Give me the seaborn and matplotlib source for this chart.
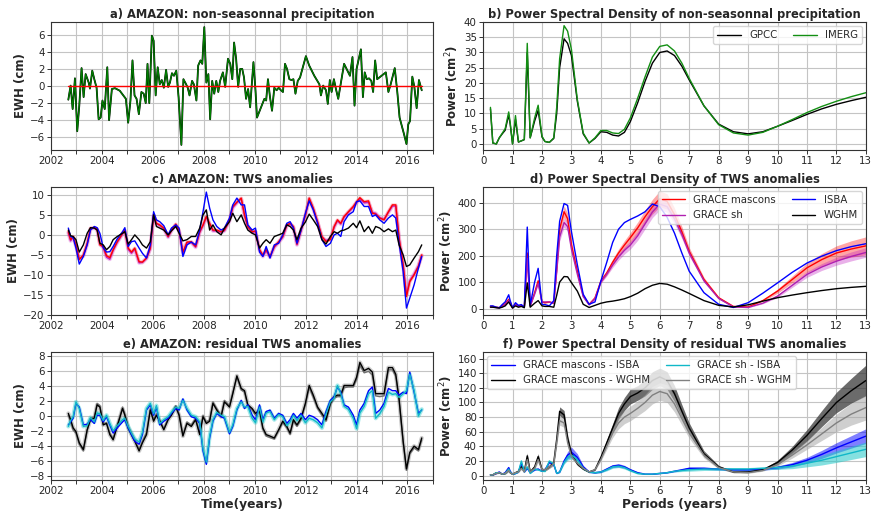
import numpy as np
import seaborn as sns
import matplotlib
matplotlib.use("Agg")
import matplotlib.pyplot as plt

# ---- panel a: non-seasonal precipitation (cm) ----
t_precip = [2002.68, 2002.77, 2002.85, 2002.94, 2003.03, 2003.11, 2003.20, 2003.28, 2003.36, 2003.48,
            2003.53, 2003.62, 2003.70, 2003.79, 2003.87, 2003.95, 2004.02, 2004.11, 2004.21, 2004.28,
            2004.39, 2004.51, 2004.70, 2004.94, 2005.03, 2005.12, 2005.20, 2005.28, 2005.36, 2005.45,
            2005.55, 2005.64, 2005.72, 2005.79, 2005.86, 2005.96, 2006.03, 2006.11, 2006.19, 2006.27,
            2006.35, 2006.43, 2006.52, 2006.60, 2006.67, 2006.75, 2006.83, 2006.92, 2007.01, 2007.12,
            2007.20, 2007.29, 2007.37, 2007.44, 2007.54, 2007.61, 2007.71, 2007.78, 2007.87, 2007.94,
            2008.02, 2008.10, 2008.18, 2008.25, 2008.33, 2008.41, 2008.49, 2008.57, 2008.64, 2008.75,
            2008.84, 2008.95, 2009.04, 2009.12, 2009.19, 2009.27, 2009.35, 2009.43, 2009.51, 2009.58,
            2009.66, 2009.74, 2009.82, 2009.95, 2010.03, 2010.09, 2010.25, 2010.38, 2010.45, 2010.52,
            2010.60, 2010.68, 2010.77, 2010.86, 2010.94, 2011.03, 2011.11, 2011.19, 2011.27, 2011.36,
            2011.44, 2011.52, 2011.60, 2011.69, 2011.78, 2012.01, 2012.14, 2012.34, 2012.54, 2012.60,
            2012.69, 2012.80, 2012.87, 2012.95, 2013.02, 2013.11, 2013.19, 2013.28, 2013.51, 2013.74,
            2013.84, 2013.92, 2014.00, 2014.17, 2014.25, 2014.32, 2014.40, 2014.49, 2014.58, 2014.65,
            2014.73, 2014.81, 2015.15, 2015.25, 2015.34, 2015.50, 2015.60, 2015.69, 2015.86, 2015.96,
            2016.03, 2016.10, 2016.19, 2016.27, 2016.36, 2016.45, 2016.56]
precip = [-1.6, 0.05, -2.7, 0.9, -5.3, -2.3, 2.1, -1.3, 1.4, 0.4,
          -0.3, 1.8, 0.8, -0.2, -3.9, -3.7, -1.7, -2.7, 2.2, -4.0,
          -0.35, -0.25, -0.55, -1.5, -4.3, -1.7, 3.0, -1.1, -1.5, -3.3,
          -0.7, -0.9, -2.0, 2.6, -2.0, 5.9, 5.3, -1.1, 2.2, 0.2,
          0.7, -0.2, 1.9, -0.1, 0.4, 1.5, 1.2, 1.8, -1.3, -6.9,
          0.8, 0.3, -0.2, -1.1, 0.6, 0.2, -1.7, 2.4, 3.0, 2.6,
          6.9, 0.4, 1.4, -3.9, 0.6, -0.9, 0.6, -0.7, 0.6, 1.6,
          -0.1, 3.2, 2.6, 0.8, 5.1, 3.2, -0.1, 2.0, 2.0, 1.0,
          -1.5, -0.35, -2.5, 2.8, -0.5, -3.7, -2.5, -1.5, -1.7, 0.8,
          -1.3, -2.9, -0.2, -0.5, -0.2, -0.5, -0.7, 2.6, 2.0, 0.8,
          0.7, 0.8, -0.9, 0.6, 1.0, 3.5, 2.4, 1.2, 0.2, -1.1,
          0.05, -0.5, -2.1, 0.7, -0.7, 0.8, -0.35, -1.5, 2.6, 1.2,
          3.4, -2.3, 2.0, 4.3, -1.3, 1.6, 0.8, 0.9, 0.6, -0.7,
          3.0, 0.8, 1.6, -0.7, 0.2, 2.1, -0.7, -3.7, -5.6, -6.8,
          -4.5, -4.1, 1.1, -0.1, -2.6, 0.7, -0.5]

# ---- panels c and e: TWS anomalies (cm) ----
t_tws = [2002.68, 2002.77, 2002.87, 2002.98, 2003.11, 2003.27, 2003.42, 2003.55, 2003.70, 2003.81,
         2003.92, 2004.05, 2004.18, 2004.31, 2004.44, 2004.60, 2004.81, 2004.90, 2005.03, 2005.16,
         2005.29, 2005.46, 2005.59, 2005.75, 2005.90, 2006.03, 2006.14, 2006.27, 2006.43, 2006.60,
         2006.73, 2006.90, 2007.03, 2007.18, 2007.34, 2007.51, 2007.68, 2007.84, 2007.97, 2008.10,
         2008.23, 2008.36, 2008.51, 2008.68, 2008.81, 2009.01, 2009.14, 2009.30, 2009.47, 2009.60,
         2009.73, 2009.90, 2010.03, 2010.19, 2010.32, 2010.45, 2010.60, 2010.77, 2010.94, 2011.10,
         2011.26, 2011.39, 2011.52, 2011.66, 2011.82, 2011.99, 2012.14, 2012.30, 2012.47, 2012.64,
         2012.80, 2012.97, 2013.12, 2013.25, 2013.38, 2013.51, 2013.68, 2013.87, 2014.00, 2014.13,
         2014.30, 2014.47, 2014.62, 2014.75, 2014.91, 2015.08, 2015.25, 2015.41, 2015.54, 2015.67,
         2015.83, 2015.96, 2016.09, 2016.26, 2016.43, 2016.56]
tws_mascons = [0.8, -1.2, -0.4, -2.5, -6.2, -5.0, -2.1, 1.7, 1.8, 1.5,
               -2.5, -2.9, -5.2, -5.7, -3.7, -1.7, 0.4, 1.2, -3.3, -4.3,
               -3.3, -6.7, -6.8, -5.8, -3.3, 5.0, 2.9, 2.5, 1.7, -0.4,
               1.2, 2.7, 1.2, -4.3, -1.8, -1.7, -2.9, 0.8, 2.5, 4.6,
               2.9, 1.2, 1.2, 0.8, 1.2, 3.75, 7.1, 8.2, 9.2, 5.0,
               2.1, 0.8, 1.0, -3.7, -5.0, -3.7, -5.4, -2.9, -1.7, -0.4,
               2.5, 2.9, 2.1, -2.3, 1.2, 5.0, 9.2, 6.7, 3.3, -0.4,
               -1.7, -1.2, 2.1, 3.75, 2.9, 4.6, 5.8, 7.1, 8.3, 9.3,
               8.3, 8.5, 5.4, 5.2, 4.2, 3.75, 5.8, 7.5, 7.5, -0.8,
               -7.5, -15.4, -11.7, -10.0, -7.9, -5.0]
tws_sh = [0.5, -1.5, -0.6, -2.8, -6.0, -5.3, -2.4, 1.5, 1.7, 1.4,
          -2.3, -3.2, -5.6, -6.1, -3.9, -1.9, 0.2, 1.0, -3.6, -4.6,
          -3.6, -7.0, -6.9, -5.9, -3.5, 4.8, 2.8, 2.3, 1.5, -0.6,
          1.0, 2.5, 1.0, -4.6, -2.0, -1.9, -3.1, 0.6, 2.3, 4.4,
          2.7, 1.0, 1.0, 0.6, 1.0, 3.5, 6.8, 8.0, 9.0, 4.8,
          1.9, 0.6, 0.8, -3.9, -5.4, -4.0, -5.6, -3.1, -1.9, -0.6,
          2.3, 2.7, 1.9, -2.5, 1.0, 4.8, 9.0, 6.5, 3.1, -0.6,
          -1.4, -1.0, 1.9, 3.5, 2.7, 4.4, 5.6, 6.9, 8.0, 8.9,
          8.0, 8.1, 5.6, 5.4, 4.3, 3.9, 5.6, 7.2, 7.2, -0.9,
          -7.6, -15.0, -11.4, -9.8, -7.7, -5.2]
tws_isba = [1.7, -0.4, -0.7, -3.3, -7.3, -5.4, -2.5, 1.2, 2.1, 1.8,
            0.4, -3.2, -4.3, -4.2, -2.9, -1.0, 0.8, 1.8, -2.9, -1.7,
            -1.5, -3.3, -4.6, -5.8, -2.5, 5.8, 3.75, 3.3, 2.3, 0.0,
            1.7, 2.5, 1.7, -5.4, -2.5, -1.8, -2.5, 1.2, 5.8, 10.7,
            6.7, 3.75, 2.1, 1.2, 1.7, 4.2, 7.5, 9.2, 7.5, 7.5,
            2.5, 1.2, 1.7, -4.3, -5.4, -2.9, -5.8, -2.5, -2.1, 0.0,
            2.9, 3.3, 1.7, -2.1, 1.2, 5.4, 8.5, 6.25, 2.9, -1.2,
            -2.9, -2.1, 0.0, 0.4, -0.4, 3.3, 5.0, 5.8, 8.3, 8.5,
            7.1, 7.1, 4.6, 5.0, 3.75, 2.9, 4.2, 5.0, 4.2, -2.1,
            -9.2, -18.3, -15.8, -12.5, -8.3, -5.4]
tws_wghm = [1.2, -0.2, -0.4, -1.2, -4.3, -2.5, 0.4, 1.8, 1.7, 1.2,
            -2.1, -2.5, -3.7, -2.9, -1.2, -0.4, 0.4, 0.8, -2.3, -1.2,
            0.0, -1.2, -2.5, -3.3, -1.7, 5.0, 2.1, 1.7, 1.2, 0.0,
            1.0, 2.1, 0.4, -1.5, -1.2, -0.4, -0.4, 1.7, 5.0, 6.25,
            1.2, 2.5, 0.8, 0.0, 1.7, 3.3, 5.4, 3.3, 5.0, 2.9,
            1.2, 0.4, 0.0, -3.3, -2.1, -1.2, -2.1, -0.4, 0.0, 0.4,
            2.5, 2.1, 1.2, -1.2, 1.7, 3.2, 5.2, 3.75, 2.1, -1.2,
            -2.3, -0.4, 0.8, 0.4, 1.0, 1.2, 1.7, 2.9, 1.8, 3.5,
            0.8, 2.1, 0.4, 2.1, 1.7, 0.8, 1.5, 0.8, 1.2, -2.5,
            -5.0, -7.9, -7.5, -5.8, -4.2, -2.5]

res_mascons_isba = [-1.2, -0.8, -0.3, 1.7, 1.2, -1.2, -1.1, -0.5, -1.0, 0.1,
                    0.1, -0.8, -0.1, -1.2, -2.3, -1.6, -0.8, -0.5, -1.6, -2.5,
                    -3.4, -3.8, -2.5, 0.8, 1.5, 0.1, 1.2, -1.2, -0.7, -0.3,
                    0.35, 1.0, 0.8, 2.3, 0.8, -0.1, -0.3, -1.0, -4.7, -6.5,
                    -2.95, -0.7, 0.35, -0.1, -0.3, -2.4, -1.4, 0.8, 2.1, 1.0,
                    1.5, 0.1, -0.5, 1.5, -0.5, 0.6, 0.8, -0.3, 0.35, 0.1,
                    -1.0, -0.5, 0.35, -0.3, 0.35, -0.5, 0.1, -0.1, -0.5, -1.2,
                    0.6, 2.1, 2.6, 3.9, 3.2, 1.5, 1.2, 0.1, -1.2, 0.8,
                    1.7, 3.4, 3.9, 0.35, 0.8, 1.7, 3.7, 3.4, 3.4, 2.8,
                    3.2, 3.0, 5.9, 3.2, 0.35, 0.8]
res_mascons_wghm = [0.35, -0.5, -1.6, -2.1, -3.6, -4.5, -1.85, -0.5, -0.3, 1.5,
                    1.2, -1.2, -1.0, -2.5, -3.2, -1.4, 1.0, 0.1, -1.6, -2.5,
                    -3.4, -4.7, -3.6, -2.5, 0.8, -0.7, 0.1, -0.7, -1.85, -0.5,
                    0.1, 1.2, 0.1, -2.7, -1.0, -1.4, -0.5, -2.5, -0.1, -1.0,
                    -0.7, 1.7, 0.8, -0.1, 1.9, 1.2, 3.0, 5.4, 3.7, 3.4,
                    1.5, 1.0, 0.35, 0.8, -1.6, -2.5, -2.7, -2.95, -1.85, -0.7,
                    -1.4, -2.3, -0.5, -1.2, -0.3, 1.7, 4.1, 2.8, 1.2, 0.35,
                    -0.5, 1.7, 2.6, 2.8, 2.8, 4.1, 4.1, 4.1, 5.2, 7.2,
                    6.1, 6.4, 5.9, 3.0, 3.0, 3.0, 6.5, 6.5, 5.6, 2.3,
                    -3.4, -7.1, -4.9, -4.05, -4.5, -2.95]
res_sh_isba = [-1.4, -0.6, -0.1, 1.9, 1.0, -1.4, -1.3, -0.2, -0.8, 0.4,
               0.3, -0.6, 0.1, -1.0, -2.0, -1.3, -0.5, -0.3, -1.4, -2.3,
               -3.1, -3.5, -2.2, 1.0, 1.7, 0.3, 1.4, -1.0, -0.5, -0.1,
               0.5, 1.2, 1.0, 2.1, 1.0, 0.1, -0.1, -0.8, -4.4, -6.2,
               -2.7, -0.5, 0.5, 0.1, -0.1, -2.2, -1.2, 1.0, 1.9, 1.2,
               1.3, -0.3, -0.9, 1.2, -0.8, 0.4, 0.6, -0.5, 0.2, -0.1,
               -1.3, -0.8, 0.1, -0.6, 0.1, -0.9, -0.3, -0.5, -0.9, -1.6,
               0.3, 1.9, 2.4, 4.1, 3.0, 1.3, 0.9, -0.3, -1.7, 0.4,
               1.3, 3.0, 3.4, -0.3, 0.3, 1.3, 3.2, 2.9, 3.0, 2.5,
               3.0, 3.4, 5.6, 3.4, 0.0, 0.9]
res_sh_wghm = [0.1, -0.8, -1.9, -2.3, -3.8, -4.7, -2.0, -0.3, -0.1, 1.7,
               1.4, -1.0, -0.9, -2.3, -3.0, -1.2, 1.2, 0.3, -1.4, -2.3,
               -3.2, -4.5, -3.4, -2.2, 1.0, -0.5, 0.3, -0.5, -1.7, -0.3,
               0.3, 1.4, 0.3, -2.5, -0.8, -1.2, -0.3, -2.3, 0.1, -0.8,
               -0.5, 1.9, 1.0, 0.1, 2.1, 1.4, 3.2, 5.2, 3.5, 3.2,
               1.3, 0.8, 0.1, 0.6, -1.8, -2.7, -2.9, -3.1, -2.0, -0.9,
               -1.6, -2.5, -0.7, -1.4, -0.5, 1.5, 3.8, 2.5, 1.0, 0.1,
               -0.7, 1.5, 2.4, 2.6, 2.6, 3.8, 3.9, 3.9, 4.9, 6.8,
               5.8, 6.0, 5.5, 2.7, 2.6, 2.7, 6.2, 6.2, 5.3, 2.0,
               -3.6, -7.3, -5.1, -4.3, -4.7, -3.2]

# ---- power spectral densities (cm^2) vs period (years) ----
periods = [0.25, 0.33, 0.45, 0.55, 0.65, 0.75, 0.87, 0.92, 1.0, 1.1,
           1.2, 1.3, 1.4, 1.5, 1.6, 1.75, 1.87, 2.0, 2.1, 2.25,
           2.4, 2.5, 2.6, 2.75, 2.87, 3.0, 3.2, 3.4, 3.6, 3.8,
           4.0, 4.2, 4.4, 4.6, 4.8, 5.0, 5.25, 5.5, 5.75, 6.0,
           6.25, 6.5, 6.75, 7.0, 7.5, 8.0, 8.5, 9.0, 9.5, 10.0,
           10.5, 11.0, 11.5, 12.0, 12.5, 13.0]

psd_gpcc = [11.5, 0.3, 0, 2, 3.3, 4.5, 9.5, 6.5, 0, 8,
            0.6, 1, 1.4, 30, 2, 7.5, 11, 2.3, 0.8, 0.5,
            1.8, 10, 25, 34.5, 33, 29, 14, 3.3, 0.3, 1.8,
            4.0, 3.8, 2.9, 2.6, 3.8, 7.3, 13.5, 20.5, 26.5, 30,
            30.5, 29, 25.5, 21, 12.5, 6.5, 4.0, 3.3, 4.0, 5.8,
            7.7, 9.7, 11.5, 13, 14.2, 15.3]
psd_imerg = [12, 0.3, 0, 2, 3.5, 5, 10.5, 7, 0, 9.3,
             0.7, 1, 1.5, 33, 2, 8.5, 12.7, 2.5, 0.8, 0.5,
             2, 12, 28, 38.8, 37, 31, 14.6, 3.6, 0.3, 2,
             4.4, 4.4, 3.6, 3.4, 4.8, 8.5, 15, 22, 28.5, 32,
             32.5, 30.5, 26.5, 21.5, 12.5, 6.3, 3.6, 2.9, 3.8, 5.8,
             8, 10.3, 12.3, 14, 15.5, 16.8]

psd_mascons = [8, 8, 5, 3, 10, 18, 35, 25, 3, 18,
               10, 12, 5, 210, 10, 60, 105, 25, 22, 25,
               20, 150, 300, 366, 340, 241, 141, 48, 16, 40,
               104, 135, 175, 210, 240, 268, 305, 347, 385, 415,
               405, 355, 290, 216, 110, 41, 8, 6, 30, 66,
               110, 154, 185, 210, 225, 237]
psd_sh = [6, 6, 4, 3, 8, 15, 30, 20, 3, 15,
          8, 10, 5, 190, 10, 55, 95, 25, 25, 25,
          20, 140, 270, 325, 310, 225, 130, 45, 14, 38,
          100, 130, 165, 195, 220, 240, 275, 320, 365, 395,
          385, 340, 280, 210, 105, 38, 6, 4, 20, 47,
          88, 129, 157, 179, 197, 212]
psd_isba = [10, 10, 5, 3, 15, 25, 52, 30, 3, 22,
            12, 15, 5, 308, 12, 100, 152, 15, 15, 10,
            30, 200, 330, 397, 390, 291, 166, 54, 16, 25,
            104, 175, 250, 300, 325, 337, 350, 366, 395, 385,
            345, 285, 210, 141, 60, 16, 4, 22, 58, 97,
            137, 172, 198, 219, 234, 245]
psd_wghm = [5, 5, 3, 2, 5, 10, 25, 15, 2, 10,
            5, 8, 3, 97, 5, 20, 30, 10, 8, 8,
            5, 50, 100, 121, 120, 98, 66, 16, 4, 12,
            20, 25, 28, 32, 37, 45, 58, 75, 88, 95,
            92, 82, 70, 57, 30, 12, 6, 14, 28, 41,
            51, 60, 68, 75, 80, 84]
spread_mascons = [1, 1, 1, 1, 1, 2, 3, 2, 1, 2,
                  1, 1, 1, 12, 1, 4, 6, 2, 2, 2,
                  2, 10, 18, 22, 20, 15, 8, 4, 2, 3,
                  6, 9, 12, 15, 17, 19, 22, 25, 28, 30,
                  29, 25, 20, 15, 8, 3, 1, 1, 3, 8,
                  13, 18, 23, 27, 31, 34]
spread_sh = [1, 1, 1, 1, 1, 2, 2, 2, 1, 2,
             1, 1, 1, 10, 1, 3, 5, 2, 2, 2,
             2, 8, 15, 18, 17, 12, 7, 3, 2, 3,
             5, 7, 10, 12, 14, 15, 17, 19, 21, 22,
             21, 19, 16, 12, 6, 2, 1, 1, 2, 5,
             8, 11, 13, 15, 17, 18]

psd_res_mascons_isba = [1, 1, 3, 5, 2, 4, 11, 6, 2, 3,
                        5, 17, 5, 10, 4, 8, 9, 6, 8, 18,
                        15, 3, 5, 20, 28, 32, 25, 12, 5, 4,
                        5, 9, 13, 14, 12, 8, 4, 2, 2, 3,
                        4, 6, 8, 10, 10, 9, 8, 8, 9, 11,
                        15, 21, 29, 38, 46, 54]
psd_res_mascons_wghm = [1, 1, 4, 4, 2, 3, 8, 4, 2, 4,
                        6, 12, 6, 27, 5, 12, 26, 8, 8, 12,
                        18, 50, 88, 83, 51, 30, 16, 9, 5, 8,
                        25, 45, 65, 85, 98, 108, 113, 120, 130, 135,
                        130, 112, 88, 65, 30, 12, 5, 5, 8, 18,
                        35, 55, 78, 100, 116, 130]
psd_res_sh_isba = [1, 1, 4, 4, 2, 3, 9, 5, 2, 3,
                   5, 20, 5, 12, 3, 9, 8, 6, 6, 20,
                   16, 3, 5, 18, 25, 28, 22, 10, 5, 4,
                   5, 8, 12, 13, 11, 7, 3, 2, 2, 3,
                   4, 6, 7, 8, 9, 9, 9, 9, 10, 11,
                   13, 17, 21, 26, 31, 36]
psd_res_sh_wghm = [1, 1, 3, 4, 2, 3, 7, 4, 2, 4,
                   5, 10, 5, 22, 5, 10, 22, 8, 8, 12,
                   16, 45, 75, 72, 45, 26, 17, 10, 5, 8,
                   22, 40, 58, 72, 80, 85, 92, 100, 110, 115,
                   112, 98, 78, 58, 28, 11, 5, 4, 7, 15,
                   28, 42, 57, 72, 84, 93]
spread_res_mascons_isba = [0.3, 0.3, 0.5, 0.5, 0.3, 0.5, 1, 0.5, 0.3, 0.5,
                           0.5, 1, 0.5, 1, 0.5, 1, 1, 0.5, 1, 1,
                           1, 0.5, 1, 3, 5, 7, 5, 2, 1, 1,
                           1, 1.5, 2, 2.5, 2, 1.5, 1, 0.5, 0.5, 0.5,
                           0.5, 1, 1, 1.5, 1.5, 1.5, 1.5, 1.5, 1.5, 2,
                           3, 4, 5.5, 7, 8.5, 10]
spread_res_mascons_wghm = [0.5, 0.5, 1, 1, 0.5, 1, 2, 1, 0.5, 1,
                           1, 2, 1, 4, 1, 2, 4, 2, 2, 2,
                           3, 5, 6, 6, 5, 3, 2, 1, 1, 1,
                           2, 4, 6, 8, 9, 10, 10, 11, 12, 12,
                           12, 11, 9, 7, 4, 2, 1, 1, 1, 3,
                           5, 8, 11, 14, 17, 21]
spread_res_sh_isba = [0.3, 0.3, 0.5, 0.5, 0.3, 0.5, 1, 0.5, 0.3, 0.5,
                      0.5, 1, 0.5, 1, 0.5, 1, 1, 0.5, 1, 1,
                      1, 0.5, 1, 2.5, 4, 5, 4, 2, 1, 1,
                      1, 1.5, 2, 2, 2, 1.5, 1, 0.5, 0.5, 0.5,
                      0.5, 1, 1.5, 2, 2, 2, 2, 2, 2, 2.5,
                      3.5, 5, 6.5, 8, 9, 10]
spread_res_sh_wghm = [0.5, 0.5, 1, 1, 0.5, 1, 2, 1, 0.5, 1,
                      1, 2, 1, 4, 1, 2, 4, 2, 2, 2,
                      3, 5, 6, 6, 5, 3, 2, 1, 1, 1,
                      2, 4, 6, 8, 9, 10, 10, 11, 12, 12,
                      12, 11, 9, 7, 4, 2, 1, 1, 1, 2,
                      4, 6, 9, 12, 15, 17]

years = list(range(2002, 2018))
year_labels = [str(y) if y % 2 == 0 and y < 2017 else "" for y in years]


def style_axis(ax, ylabel, title):
    ax.set_title(title, fontsize=8.3, fontweight="bold", pad=3)
    ax.set_ylabel(ylabel, fontsize=8.5, fontweight="bold", labelpad=2)
    ax.tick_params(labelsize=7.4, length=3, width=0.7, pad=1.5, color="#333333")
    ax.grid(True, color="#c4c4c4", linewidth=0.8)
    for s in ax.spines.values():
        s.set_color("#333333")
        s.set_linewidth(0.8)


def time_axis(ax):
    ax.set_xlim(2002, 2017)
    ax.set_xticks(years)
    ax.set_xticklabels(year_labels)


def period_axis(ax):
    ax.set_xlim(0, 13)
    ax.set_xticks(range(0, 14))


def band(ax, y, spread, color, alpha):
    y = np.array(y)
    s = np.array(spread)
    ax.fill_between(periods, y - s, y + s, color=color, alpha=alpha, linewidth=0)


sns.set_style("ticks")
plt.rcParams["font.family"] = ["DejaVu Sans"]

fig = plt.figure(figsize=(8.72, 5.12), dpi=100)
ax_a = fig.add_axes([0.0585, 0.707, 0.438, 0.25])
ax_b = fig.add_axes([0.554, 0.707, 0.439, 0.25])
ax_c = fig.add_axes([0.0585, 0.385, 0.438, 0.25])
ax_d = fig.add_axes([0.554, 0.385, 0.439, 0.25])
ax_e = fig.add_axes([0.0585, 0.0625, 0.438, 0.25])
ax_f = fig.add_axes([0.554, 0.0625, 0.439, 0.25])

# a) precipitation anomalies
sns.lineplot(x=t_precip, y=precip, ax=ax_a, color="black", linewidth=1.3)
sns.lineplot(x=t_precip, y=precip, ax=ax_a, color="green", linewidth=0.9)
ax_a.plot([t_precip[0], t_precip[-1]], [0, 0], color="red", linewidth=1.0)
time_axis(ax_a)
ax_a.set_ylim(-7.5, 7.5)
ax_a.set_yticks(range(-6, 7, 2))
style_axis(ax_a, "EWH (cm)", "a) AMAZON: non-seasonnal precipitation")

# b) PSD of precipitation
sns.lineplot(x=periods, y=psd_gpcc, ax=ax_b, color="black", linewidth=1.0, label="GPCC")
sns.lineplot(x=periods, y=psd_imerg, ax=ax_b, color="#138f13", linewidth=1.0, label="IMERG")
period_axis(ax_b)
ax_b.set_ylim(-2, 40)
ax_b.set_yticks(range(0, 41, 5))
ax_b.legend(ncol=2, loc="upper right", fontsize=7.3, borderaxespad=0.4,
            handlelength=2.3, columnspacing=1.6, framealpha=0.8)
style_axis(ax_b, "Power (cm$^2$)", "b) Power Spectral Density of non-seasonnal precipitation")

# c) TWS anomalies
sns.lineplot(x=t_tws, y=tws_sh, ax=ax_c, color="#cc33cc", linewidth=2.8, alpha=0.3)
sns.lineplot(x=t_tws, y=tws_mascons, ax=ax_c, color="#ff6060", linewidth=2.4, alpha=0.3)
sns.lineplot(x=t_tws, y=tws_sh, ax=ax_c, color="#c020c0", linewidth=1.0)
sns.lineplot(x=t_tws, y=tws_mascons, ax=ax_c, color="red", linewidth=1.0)
sns.lineplot(x=t_tws, y=tws_isba, ax=ax_c, color="blue", linewidth=1.0)
sns.lineplot(x=t_tws, y=tws_wghm, ax=ax_c, color="black", linewidth=1.0)
time_axis(ax_c)
ax_c.set_ylim(-20, 12)
ax_c.set_yticks(range(-20, 11, 5))
style_axis(ax_c, "EWH (cm)", "c) AMAZON: TWS anomalies")

# d) PSD of TWS anomalies
band(ax_d, psd_mascons, spread_mascons, "red", 0.35)
band(ax_d, psd_sh, spread_sh, "#c020c0", 0.35)
sns.lineplot(x=periods, y=psd_mascons, ax=ax_d, color="red", linewidth=1.0, label="GRACE mascons")
sns.lineplot(x=periods, y=psd_sh, ax=ax_d, color="#b020b0", linewidth=1.0, label="GRACE sh")
sns.lineplot(x=periods, y=psd_isba, ax=ax_d, color="blue", linewidth=1.0, label="ISBA")
sns.lineplot(x=periods, y=psd_wghm, ax=ax_d, color="black", linewidth=1.0, label="WGHM")
period_axis(ax_d)
ax_d.set_ylim(-24, 460)
ax_d.set_yticks(range(0, 401, 100))
ax_d.legend(ncol=2, loc="upper right", fontsize=7.3, borderaxespad=0.4,
            handlelength=2.3, columnspacing=1.6, framealpha=0.8)
style_axis(ax_d, "Power (cm$^2$)", "d) Power Spectral Density of TWS anomalies")

# e) residual TWS anomalies
sns.lineplot(x=t_tws, y=res_mascons_wghm, ax=ax_e, color="#808080", linewidth=3.0, alpha=0.4)
sns.lineplot(x=t_tws, y=res_sh_isba, ax=ax_e, color="#20c8c8", linewidth=3.0, alpha=0.4)
sns.lineplot(x=t_tws, y=res_sh_wghm, ax=ax_e, color="#707070", linewidth=1.0)
sns.lineplot(x=t_tws, y=res_mascons_wghm, ax=ax_e, color="black", linewidth=1.0)
sns.lineplot(x=t_tws, y=res_mascons_isba, ax=ax_e, color="blue", linewidth=1.0)
sns.lineplot(x=t_tws, y=res_sh_isba, ax=ax_e, color="#10b8c8", linewidth=1.0)
time_axis(ax_e)
ax_e.set_ylim(-8.6, 8.6)
ax_e.set_yticks(range(-8, 9, 2))
ax_e.set_xlabel("Time(years)", fontsize=8.8, fontweight="bold", labelpad=1)
style_axis(ax_e, "EWH (cm)", "e) AMAZON: residual TWS anomalies")

# f) PSD of residual TWS anomalies
band(ax_f, psd_res_mascons_wghm, spread_res_mascons_wghm, "#3a3a3a", 0.75)
band(ax_f, psd_res_sh_wghm, spread_res_sh_wghm, "#a8a8a8", 0.55)
band(ax_f, psd_res_mascons_isba, spread_res_mascons_isba, "blue", 0.5)
band(ax_f, psd_res_sh_isba, spread_res_sh_isba, "#20c8c8", 0.55)
sns.lineplot(x=periods, y=psd_res_mascons_isba, ax=ax_f, color="blue", linewidth=1.0,
             label="GRACE mascons - ISBA")
sns.lineplot(x=periods, y=psd_res_mascons_wghm, ax=ax_f, color="black", linewidth=1.0,
             label="GRACE mascons - WGHM")
sns.lineplot(x=periods, y=psd_res_sh_isba, ax=ax_f, color="#10b8c8", linewidth=1.0,
             label="GRACE sh - ISBA")
sns.lineplot(x=periods, y=psd_res_sh_wghm, ax=ax_f, color="#808080", linewidth=1.0,
             label="GRACE sh - WGHM")
period_axis(ax_f)
ax_f.set_ylim(-6, 169)
ax_f.set_yticks(range(0, 161, 20))
ax_f.legend(ncol=2, loc="upper left", fontsize=7.3, borderaxespad=0.4,
            handlelength=2.3, columnspacing=1.6, framealpha=0.8)
ax_f.set_xlabel("Periods (years)", fontsize=8.8, fontweight="bold", labelpad=1)
style_axis(ax_f, "Power (cm$^2$)", "f) Power Spectral Density of residual TWS anomalies")

fig.savefig("out.png", dpi=100)
